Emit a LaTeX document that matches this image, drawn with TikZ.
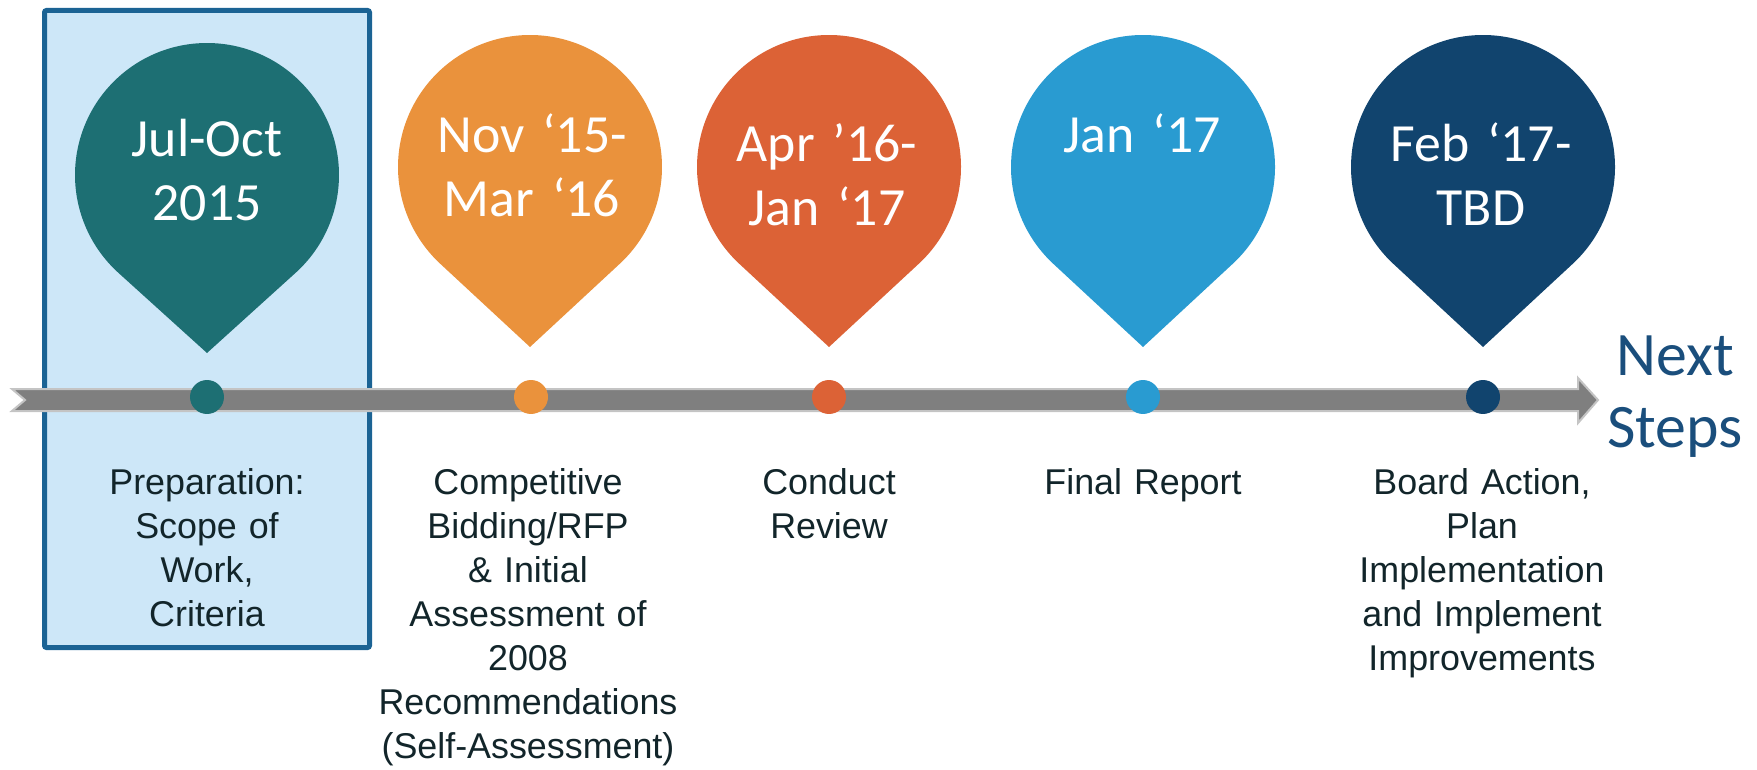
\documentclass[tikz,border=0pt]{standalone}
\usepackage{fontspec}
\setmainfont{Liberation Sans}
\newfontfamily\pinfont{Carlito}
\usepackage{tikz}

\definecolor{tealpin}{HTML}{1D6F73}
\definecolor{orangepin}{HTML}{EA923C}
\definecolor{redpin}{HTML}{DC6236}
\definecolor{bluepin}{HTML}{299BD1}
\definecolor{navypin}{HTML}{11446E}
\definecolor{framefill}{HTML}{CDE7F8}
\definecolor{frameline}{HTML}{1B6394}
\definecolor{arrowgray}{HTML}{7F7F7F}
\definecolor{arrowrim}{HTML}{C4C4C4}
\definecolor{labeltext}{HTML}{12252A}
\definecolor{nexttext}{HTML}{1A4E7C}

\tikzstyle{dot} = [circle, minimum size=0.68cm, inner sep=0pt]
\tikzstyle{dateText} = [text=white, anchor=base, align=center, text width=5cm,
   inner sep=0pt, font=\pinfont\fontsize{30.6}{36.3}\selectfont]
\tikzstyle{stepText} = [text=labeltext, anchor=base, align=center, text width=7cm,
   inner sep=0pt, font=\fontsize{20.4}{25.1}\selectfont]
\tikzstyle{nextText} = [text=nexttext, anchor=base, align=center, text width=4cm,
   inner sep=0pt, font=\pinfont\fontsize{35.2}{41.4}\selectfont]

% pin: x, centre y, tip y, colour
\newcommand{\pin}[4]{%
  \pgfmathsetmacro\pinang{acos(132/(#3-#2))}
  \fill[#4] (#1,#2) ++({90-\pinang}:132) arc[start angle={90-\pinang},
     end angle={-270+\pinang}, radius=132] -- (#1,#3) -- cycle;
}

\begin{document}
\begin{tikzpicture}[x=0.02cm, y=-0.02cm]
  \useasboundingbox (0,0) rectangle (1757,770);

  % highlighted first phase
  \filldraw[fill=framefill, draw=frameline, line width=0.1cm, rounded corners=0.04cm]
     (44.5,10.5) rectangle (369.5,647.5);

  % pins
  \pin{207}{175}{353}{tealpin}
  \pin{530}{167}{347}{orangepin}
  \pin{829}{167}{347}{redpin}
  \pin{1143}{167}{347}{bluepin}
  \pin{1483}{167}{347}{navypin}

  % time line
  \filldraw[fill=arrowgray, draw=arrowrim, line width=0.04cm]
     (12,389) -- (1578,389) -- (1578,378) -- (1598,400) -- (1578,423)
     -- (1578,411) -- (12,411) -- (25,400) -- cycle;

  \node[dot, fill=tealpin] (m1) at (207,397) {};
  \node[dot, fill=orangepin] (m2) at (531,397) {};
  \node[dot, fill=redpin] (m3) at (829,397) {};
  \node[dot, fill=bluepin] (m4) at (1143,397) {};
  \node[dot, fill=navypin] (m5) at (1483,397) {};

  % dates
  \node[dateText] (d1) at (207,157) {Jul-Oct\\2015};
  \node[dateText] (d2) at (532,153) {Nov ‘15-\\Mar ‘16};
  \node[dateText] (d3) at (827,162) {Apr ’16-\\Jan ‘17};
  \node[dateText] (d4) at (1142,153) {Jan ‘17};
  \node[dateText] (d5) at (1481,162) {Feb ‘17-\\TBD};

  % steps
  \node[stepText] (s1) at (207,494) {Preparation:\\Scope of\\Work,\\Criteria};
  \node[stepText] (s2) at (528,494) {Competitive\\Bidding/RFP\\\& Initial\\Assessment of\\2008\\Recommendations\\(Self-Assessment)};
  \node[stepText] (s3) at (829,494) {Conduct\\Review};
  \node[stepText] (s4) at (1143,494) {Final Report};
  \node[stepText] (s5) at (1482,494) {Board Action,\\Plan\\Implementation\\and Implement\\Improvements};

  \node[nextText] (next) at (1675,375) {Next\\Steps};
\end{tikzpicture}
\end{document}
